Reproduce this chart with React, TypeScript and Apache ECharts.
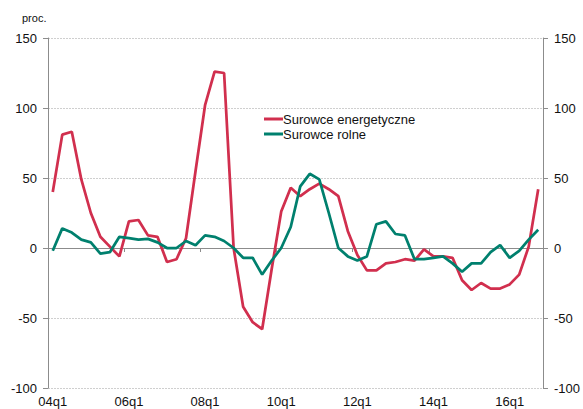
import React, { useEffect, useRef } from "react";
import * as echarts from "echarts";

const years = ["04", "05", "06", "07", "08", "09", "10", "11", "12", "13", "14", "15", "16"];
const categories: string[] = [];
years.forEach((y) => {
  for (let q = 1; q <= 4; q++) categories.push(`${y}q${q}`);
});

const energetyczne = [
  40, 81, 83, 49, 25, 8, 1, -6, 19, 20, 9, 8, -10, -8, 7, 55, 102, 126, 125, 0,
  -42, -53, -58, -15, 26, 43, 37, 42, 46, 42, 37, 12, -5, -16, -16, -11, -10, -8, -9, -1,
  -6, -6, -7, -23, -30, -25, -29, -29, -26, -19, 1, 42,
];
const rolne = [
  -2, 14, 11, 6, 4, -4, -3, 8, 7, 6, 6.5, 4, 0, 0, 5, 2, 9, 8, 5, 0,
  -7, -7, -19, -9, 0, 15, 44, 53, 49, 25, 0, -6, -9, -6, 17, 19, 10, 9, -8, -8,
  -7, -6, -11, -17, -11, -11, -3, 2, -7, -2, 6, 13,
];

const seriesNames = ["Surowce energetyczne", "Surowce rolne"];
const seriesColors = ["#D12F4E", "#00806E"];
const font = "'Liberation Sans', Arial, sans-serif";

export default function App() {
  const ref = useRef<HTMLDivElement>(null);
  useEffect(() => {
    if (!ref.current) return;
    const chart = echarts.init(ref.current, undefined, { renderer: "svg" });
    const yAxisCommon = {
      type: "value" as const,
      min: -100,
      max: 150,
      interval: 50,
      axisLine: { show: true, lineStyle: { color: "#8c8c8c", width: 1 } },
      axisTick: { show: true, length: 5, lineStyle: { color: "#8c8c8c" } },
      axisLabel: { color: "#111", fontSize: 13, fontFamily: font, margin: 11 },
    };
    chart.setOption({
      animation: false,
      backgroundColor: "#fff",
      grid: { left: 48, right: 40, top: 38, bottom: 21, containLabel: false },
      graphic: [
        {
          type: "text",
          left: 22,
          top: 12,
          style: { text: "proc.", fontSize: 11, fontFamily: font, fill: "#111" },
        },
      ],
      legend: {
        orient: "vertical",
        left: 259,
        top: 107,
        itemWidth: 19,
        itemHeight: 3,
        itemGap: 1,
        icon: "rect",
        data: seriesNames,
        textStyle: { fontSize: 13, fontFamily: font, color: "#111", lineHeight: 14, padding: [0, 0, 0, -5] },
      },
      xAxis: [
        {
          type: "category",
          data: categories,
          boundaryGap: true,
          axisLine: { show: true, onZero: true, lineStyle: { color: "#8c8c8c", width: 1 } },
          axisTick: { show: true, interval: 7, length: 4, lineStyle: { color: "#8c8c8c" } },
          axisLabel: { show: false },
          splitLine: { show: false },
        },
        {
          type: "category",
          data: categories,
          boundaryGap: true,
          position: "bottom",
          axisLine: { show: false, onZero: false },
          axisTick: { show: false },
          axisLabel: { show: true, interval: 7, color: "#111", fontSize: 13, fontFamily: font, margin: 7 },
          splitLine: { show: false },
        },
      ],
      yAxis: [
        {
          ...yAxisCommon,
          position: "left",
          splitLine: { show: true, lineStyle: { color: "#cfcfcf", type: [2, 1], width: 1 } },
        },
        {
          ...yAxisCommon,
          position: "right",
          splitLine: { show: false },
        },
      ],
      series: [
        {
          name: seriesNames[0],
          type: "line",
          data: energetyczne,
          xAxisIndex: 0,
          yAxisIndex: 0,
          showSymbol: false,
          symbol: "none",
          lineStyle: { color: seriesColors[0], width: 2.75 },
          itemStyle: { color: seriesColors[0] },
          z: 3,
        },
        {
          name: seriesNames[1],
          type: "line",
          data: rolne,
          xAxisIndex: 0,
          yAxisIndex: 0,
          showSymbol: false,
          symbol: "none",
          lineStyle: { color: seriesColors[1], width: 2.75 },
          itemStyle: { color: seriesColors[1] },
          z: 4,
        },
      ],
    });
    return () => chart.dispose();
  }, []);
  return <div ref={ref} style={{ width: 583, height: 409, position: "absolute", left: 0, top: 0 }} />;
}
